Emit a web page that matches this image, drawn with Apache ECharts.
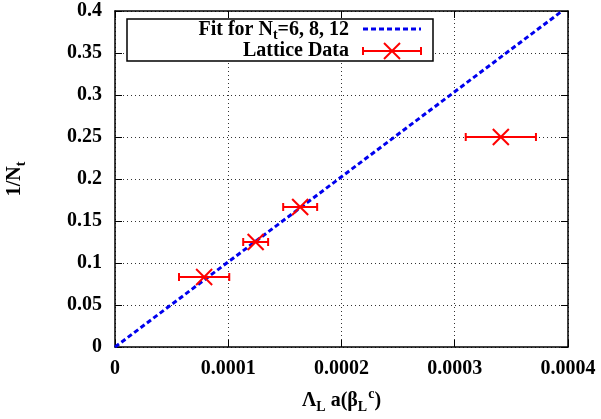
<!DOCTYPE html>
<html><head><meta charset="utf-8">
<script src="https://cdn.jsdelivr.net/npm/echarts@6/dist/echarts.min.js"></script>
<style>html,body{margin:0;padding:0;background:#fff}#c{width:601px;height:419px}</style>
</head><body><div id="c"></div>
<script>
const xTickLabels = ['0', '0.0001', '0.0002', '0.0003', '0.0004'];
const yTickLabels = ['0', '0.05', '0.1', '0.15', '0.2', '0.25', '0.3', '0.35', '0.4'];
const latticeX = [0.0000787, 0.0001242, 0.0001635, 0.0003407];
const latticeY = [0.0833, 0.125, 0.1667, 0.25];
const latticeXErr = [0.0000222, 0.000011, 0.000015, 0.000031];
const fitX = [0, 0.0003948];
const fitY = [0, 0.4];

const FONT = 'Liberation Serif';
const RED = '#ff0000';
const BLUE = '#0000ee';
const rich = {
  m: {fontFamily: FONT, fontWeight: 'bold', fontSize: 20, color: '#000', verticalAlign: 'top', padding: [4, 0, 0, 0]},
  sub: {fontFamily: FONT, fontWeight: 'bold', fontSize: 14, color: '#000', verticalAlign: 'top', padding: [13, 0, 0, 0]},
  sup: {fontFamily: FONT, fontWeight: 'bold', fontSize: 14, color: '#000', verticalAlign: 'top', padding: [0, 0, 0, 1]}
};

const chart = echarts.init(document.getElementById('c'), null, {renderer: 'canvas'});
const labelStyle = {fontFamily: FONT, fontWeight: 'bold', fontSize: 20, color: '#000'};

const option = {
  animation: false,
  backgroundColor: '#fff',
  grid: {left: 115, right: 33, top: 11, bottom: 72, containLabel: false, outerBoundsMode: 'none'},
  xAxis: [{
    type: 'value', min: 0, max: 0.0004, interval: 0.0001, position: 'bottom',
    axisLine: {show: true, onZero: false, lineStyle: {color: '#000', width: 1.5}},
    axisTick: {show: true, inside: true, length: 7, lineStyle: {color: '#000', width: 1}},
    axisLabel: Object.assign({margin: 12, showMinLabel: true, showMaxLabel: true,
      formatter: v => xTickLabels[Math.round(v / 0.0001)]}, labelStyle),
    splitLine: {show: true, lineStyle: {color: '#333', type: [1, 3], width: 1}},
    name: '{m|Λ}{sub|L}{m| a(β}{sub|L}{sup|c}{m|)}',
    nameLocation: 'middle', nameGap: 40,
    nameTextStyle: {rich: rich}
  }, {
    type: 'value', min: 0, max: 0.0004, interval: 0.0001, position: 'top',
    axisLine: {show: true, onZero: false, lineStyle: {color: '#000', width: 1.5}},
    axisTick: {show: true, inside: true, length: 7, lineStyle: {color: '#000', width: 1}},
    axisLabel: {show: false}, splitLine: {show: false}
  }],
  yAxis: [{
    type: 'value', min: 0, max: 0.4, interval: 0.05, position: 'left',
    axisLine: {show: true, onZero: false, lineStyle: {color: '#000', width: 1.5}},
    axisTick: {show: true, inside: true, length: 7, lineStyle: {color: '#000', width: 1}},
    axisLabel: Object.assign({margin: 13, showMinLabel: true, showMaxLabel: true,
      formatter: v => yTickLabels[Math.round(v / 0.05)]}, labelStyle),
    splitLine: {show: true, lineStyle: {color: '#333', type: [1, 3], width: 1}},
    name: '{m|1/N}{sub|t}',
    nameLocation: 'middle', nameRotate: 90, nameGap: 87,
    nameTextStyle: {rich: rich}
  }, {
    type: 'value', min: 0, max: 0.4, interval: 0.05, position: 'right',
    axisLine: {show: true, onZero: false, lineStyle: {color: '#000', width: 1.5}},
    axisTick: {show: true, inside: true, length: 7, lineStyle: {color: '#000', width: 1}},
    axisLabel: {show: false}, splitLine: {show: false}
  }],
  series: [{
    type: 'line', name: 'fit', xAxisIndex: 0, yAxisIndex: 0,
    data: fitX.map((x, i) => [x, fitY[i]]),
    showSymbol: false, symbol: 'none', clip: true,
    lineStyle: {color: BLUE, width: 3, type: [5, 3]}, z: 3
  }, {
    type: 'custom', name: 'lattice', xAxisIndex: 0, yAxisIndex: 0,
    data: latticeX.map((x, i) => [x, latticeY[i], latticeXErr[i]]),
    renderItem: function (params, api) {
      const x = api.value(0), y = api.value(1), e = api.value(2);
      const c = api.coord([x, y]);
      const a = api.coord([x - e, y]);
      const b = api.coord([x + e, y]);
      const st = {stroke: RED, lineWidth: 2};
      const cap = 4, m = 8;
      return {type: 'group', children: [
        {type: 'line', shape: {x1: a[0], y1: a[1], x2: b[0], y2: b[1]}, style: st},
        {type: 'line', shape: {x1: a[0], y1: a[1] - cap, x2: a[0], y2: a[1] + cap}, style: st},
        {type: 'line', shape: {x1: b[0], y1: b[1] - cap, x2: b[0], y2: b[1] + cap}, style: st},
        {type: 'line', shape: {x1: c[0] - m, y1: c[1] - m, x2: c[0] + m, y2: c[1] + m}, style: st},
        {type: 'line', shape: {x1: c[0] - m, y1: c[1] + m, x2: c[0] + m, y2: c[1] - m}, style: st}
      ]};
    },
    z: 4
  }],
  graphic: [
    {type: 'rect', z: 100, shape: {x: 127, y: 19, width: 306, height: 42},
     style: {fill: '#fff', stroke: '#000', lineWidth: 1.5}},
    {type: 'text', z: 101, x: 349, y: 29,
     style: {text: '{m|Fit for N}{sub|t}{m|=6, 8, 12}', rich: rich, align: 'right', verticalAlign: 'middle'}},
    {type: 'text', z: 101, x: 349, y: 51,
     style: {text: 'Lattice Data', fontFamily: FONT, fontWeight: 'bold', fontSize: 20, fill: '#000', align: 'right', verticalAlign: 'middle'}},
    {type: 'line', z: 101, shape: {x1: 363, y1: 29, x2: 421, y2: 29},
     style: {stroke: BLUE, lineWidth: 3, lineDash: [5, 3]}},
    {type: 'line', z: 101, shape: {x1: 363, y1: 51, x2: 421, y2: 51}, style: {stroke: RED, lineWidth: 2}},
    {type: 'line', z: 101, shape: {x1: 363, y1: 47, x2: 363, y2: 55}, style: {stroke: RED, lineWidth: 2}},
    {type: 'line', z: 101, shape: {x1: 421, y1: 47, x2: 421, y2: 55}, style: {stroke: RED, lineWidth: 2}},
    {type: 'line', z: 101, shape: {x1: 384, y1: 43, x2: 400, y2: 59}, style: {stroke: RED, lineWidth: 2}},
    {type: 'line', z: 101, shape: {x1: 384, y1: 59, x2: 400, y2: 43}, style: {stroke: RED, lineWidth: 2}}
  ]
};
chart.setOption(option);
</script>
</body></html>
